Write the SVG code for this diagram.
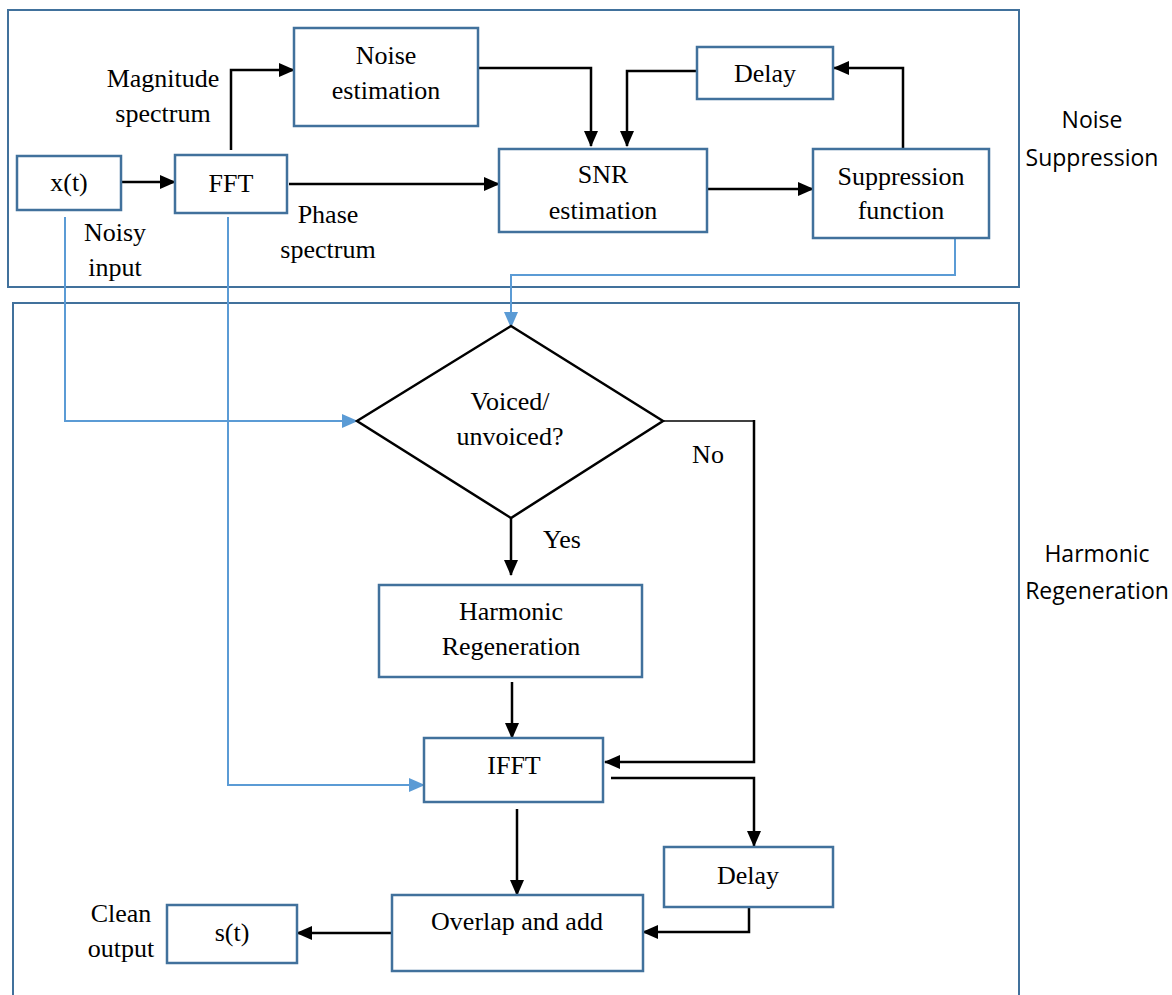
<svg xmlns="http://www.w3.org/2000/svg" width="1172" height="995" viewBox="0 0 1172 995">
  <style>
    .frame { fill: none; stroke: #41719C; stroke-width: 2; }
    .box { fill: #fff; stroke: #41719C; stroke-width: 2.5; }
    .dia { fill: #fff; stroke: #000; stroke-width: 2.5; }
    .t { font-family: "Liberation Serif", "Times New Roman", serif; font-size: 26px; fill: #000; text-anchor: middle; }
    .s { font-family: "Open Sans", "Liberation Sans", sans-serif; font-size: 23px; fill: #000; text-anchor: middle; }
    .k { fill: none; stroke: #000; stroke-width: 2.5; }
    .kt { fill: none; stroke: #000; stroke-width: 1.5; }
    .b { fill: none; stroke: #5B9BD5; stroke-width: 2; }
  </style>
  <defs>
    <marker id="ah" markerUnits="userSpaceOnUse" markerWidth="16" markerHeight="14" refX="15" refY="7" orient="auto">
      <path d="M0,0 L16,7 L0,14 Z" fill="#000"/>
    </marker>
    <marker id="ahb" markerUnits="userSpaceOnUse" markerWidth="16" markerHeight="14" refX="15" refY="7" orient="auto">
      <path d="M0,0 L16,7 L0,14 Z" fill="#5B9BD5"/>
    </marker>
  </defs>
  <rect width="1172" height="995" fill="#fff"/>

  <!-- section frames -->
  <g id="frames">
    <rect class="frame" x="8" y="10" width="1011" height="277"/>
    <rect class="frame" x="13" y="303" width="1006" height="700"/>
    <text class="s" x="1092" y="128">Noise</text>
    <text class="s" x="1092" y="166">Suppression</text>
    <text class="s" x="1097" y="562">Harmonic</text>
    <text class="s" x="1097" y="599">Regeneration</text>
  </g>

  <!-- connectors -->
  <g id="connectors">
    <!-- black signal flow -->
    <path class="k" d="M122,182 L175,182" marker-end="url(#ah)"/>
    <path class="k" d="M231,150 L231,70 L294,70" marker-end="url(#ah)"/>
    <path class="k" d="M289,184 L499,184" marker-end="url(#ah)"/>
    <path class="k" d="M479,68 L591,68 L591,146" marker-end="url(#ah)"/>
    <path class="k" d="M696,71 L627,71 L627,146" marker-end="url(#ah)"/>
    <path class="k" d="M707,189 L813,189" marker-end="url(#ah)"/>
    <path class="k" d="M903,149 L903,68 L834,68" marker-end="url(#ah)"/>
    <path class="k" d="M511,518 L511,575" marker-end="url(#ah)"/>
    <path class="kt" d="M663,421 L754,421"/>
    <path class="k" d="M754,420 L754,762 L605,762" marker-end="url(#ah)"/>
    <path class="k" d="M512,682 L512,738" marker-end="url(#ah)"/>
    <path class="k" d="M611,778 L754,778 L754,846" marker-end="url(#ah)"/>
    <path class="k" d="M517,809 L517,895" marker-end="url(#ah)"/>
    <path class="k" d="M749,908 L749,932 L643,932" marker-end="url(#ah)"/>
    <path class="k" d="M392,933 L297,933" marker-end="url(#ah)"/>
    <!-- blue cross-section links -->
    <path class="b" d="M955,238 L955,275 L511,275 L511,327" marker-end="url(#ahb)"/>
    <path class="b" d="M65,217 L65,421 L357,421" marker-end="url(#ahb)"/>
    <path class="b" d="M228,217 L228,785 L424,785" marker-end="url(#ahb)"/>
  </g>

  <!-- noise suppression nodes -->
  <g id="x-in">
    <rect class="box" x="17" y="156" width="104" height="54"/>
    <text class="t" x="69" y="191">x(t)</text>
  </g>
  <g id="fft">
    <rect class="box" x="175" y="155" width="112" height="58"/>
    <text class="t" x="231" y="192">FFT</text>
  </g>
  <g id="noise-est">
    <rect class="box" x="294" y="28" width="184" height="98"/>
    <text class="t" x="386" y="64">Noise</text>
    <text class="t" x="386" y="99">estimation</text>
  </g>
  <g id="snr-est">
    <rect class="box" x="499" y="149" width="208" height="83"/>
    <text class="t" x="603" y="183">SNR</text>
    <text class="t" x="603" y="219">estimation</text>
  </g>
  <g id="delay-top">
    <rect class="box" x="697" y="47" width="136" height="52"/>
    <text class="t" x="765" y="82">Delay</text>
  </g>
  <g id="suppression">
    <rect class="box" x="813" y="149" width="176" height="89"/>
    <text class="t" x="901" y="185">Suppression</text>
    <text class="t" x="901" y="219">function</text>
  </g>
  <g id="labels-top">
    <text class="t" x="163" y="87">Magnitude</text>
    <text class="t" x="163" y="122">spectrum</text>
    <text class="t" x="328" y="223">Phase</text>
    <text class="t" x="328" y="258">spectrum</text>
    <text class="t" x="115" y="241">Noisy</text>
    <text class="t" x="115" y="276">input</text>
  </g>

  <!-- harmonic regeneration nodes -->
  <g id="voiced">
    <polygon class="dia" points="511,326 663,421 511,518 357,421"/>
    <text class="t" x="510" y="410">Voiced/</text>
    <text class="t" x="510" y="445">unvoiced?</text>
    <text class="t" x="708" y="463">No</text>
    <text class="t" x="562" y="548">Yes</text>
  </g>
  <g id="harmonic">
    <rect class="box" x="379" y="585" width="263" height="92"/>
    <text class="t" x="511" y="620">Harmonic</text>
    <text class="t" x="511" y="655">Regeneration</text>
  </g>
  <g id="ifft">
    <rect class="box" x="424" y="738" width="179" height="64"/>
    <text class="t" x="514" y="774">IFFT</text>
  </g>
  <g id="delay-bottom">
    <rect class="box" x="664" y="847" width="169" height="60"/>
    <text class="t" x="748" y="884">Delay</text>
  </g>
  <g id="overlap-add">
    <rect class="box" x="392" y="895" width="251" height="76"/>
    <text class="t" x="517" y="930">Overlap and add</text>
  </g>
  <g id="s-out">
    <rect class="box" x="167" y="905" width="130" height="58"/>
    <text class="t" x="232" y="941">s(t)</text>
    <text class="t" x="121" y="922">Clean</text>
    <text class="t" x="121" y="957">output</text>
  </g>
</svg>
